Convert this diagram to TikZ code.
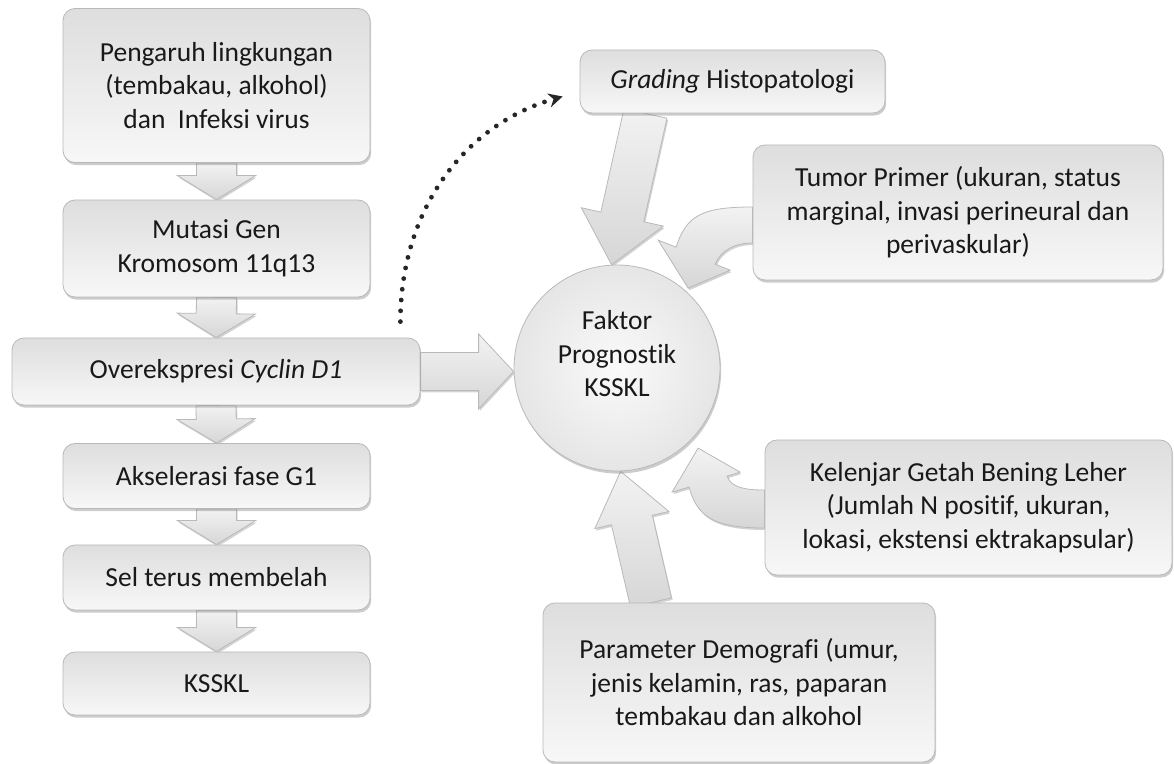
\documentclass[tikz,border=0pt]{standalone}
\usepackage{fontspec}
\setmainfont{Carlito}[Ligatures=NoCommon]
\usetikzlibrary{arrows.meta,calc,shadows,backgrounds}

\newcommand{\diagfont}{\fontsize{13.75pt}{16.75pt}\selectfont}

% fat block arrow: [style] start, tip, shaft half width, head half width, head length
\newcommand{\fatarrow}[6][]{%
  \coordinate (fa-b) at ($(#3)!#6!(#2)$);
  \path[fatarrow,#1] ($(#2)!#4!90:(#3)$) -- ($(fa-b)!#4!90:(#3)$)
    -- ($(fa-b)!#5!90:(#3)$) -- (#3) -- ($(fa-b)!#5!-90:(#3)$)
    -- ($(fa-b)!#4!-90:(#3)$) -- ($(#2)!#4!-90:(#3)$) -- cycle;
}

\tikzset{
  box/.style={rectangle, rounded corners=6pt, draw=gray!55, top color=gray!26, bottom color=gray!6,
    align=center, inner sep=0pt, text=black!90, font=\diagfont,
    drop shadow={shadow xshift=0.6pt, shadow yshift=-1.3pt, opacity=0.4}},
  boxtext/.style={align=center, inner sep=0pt, text=black!90, font=\diagfont},
  fatarrow/.style={draw=gray!55, top color=gray!10, bottom color=gray!32,
    drop shadow={shadow xshift=0.6pt, shadow yshift=-1pt, opacity=0.35}},
  dotarrow/.style={line width=2.4pt, line cap=round, dash pattern=on 0pt off 5.4pt,
    black!85, -{Stealth[length=7pt, width=7pt]}}
}

\begin{document}
\begin{tikzpicture}[x=0.5pt, y=-0.5pt]
    \useasboundingbox (0,0) rectangle (1174,764);

    % left column
    \node[box, minimum width=153.5pt, minimum height=77pt] (env) at (216.5,85.5)
        {Pengaruh lingkungan\\(tembakau, alkohol)\\dan\ \ Infeksi virus};
    \node[box, minimum width=153.5pt, minimum height=48.5pt] (mutasi) at (216.5,248.5)
        {Mutasi Gen\\Kromosom 11q13};
    \node[box, minimum width=204pt, minimum height=33.5pt] (ovr) at (216,371.5)
        {Overekspresi \textit{Cyclin D1}};
    \node[box, minimum width=153.5pt, minimum height=32.5pt] (aksel) at (216.5,476)
        {Akselerasi fase G1};
    \node[box, minimum width=153.5pt, minimum height=32.5pt] (sel) at (216.5,577.5)
        {Sel terus membelah};
    \node[box, minimum width=153.5pt, minimum height=31.5pt] (ksskl) at (216.5,683.5)
        {KSSKL};

    % right side
    \node[box, circle, minimum size=103pt, inner color=gray!4, outer color=gray!20,
        label={[boxtext, yshift=7pt]center:Faktor\\Prognostik\\KSSKL}] (faktor) at (617,368) {};
    \node[box, minimum width=152.5pt, minimum height=31.5pt] (grading) at (732.5,81.5)
        {\textit{Grading} Histopatologi};
    \node[box, minimum width=205pt, minimum height=67.5pt] (tumor) at (958,212.5)
        {Tumor Primer (ukuran, status\\marginal, invasi perineural dan\\perivaskular)};
    \node[box, minimum width=203.5pt, minimum height=67.5pt] (kgb) at (968.5,507.5)
        {Kelenjar Getah Bening Leher\\(Jumlah N positif, ukuran,\\lokasi, ekstensi ektrakapsular)};
    \node[box, minimum width=196pt, minimum height=79.5pt] (demografi) at (739,682.5)
        {Parameter Demografi (umur,\\jenis kelamin, ras, paparan\\tembakau dan alkohol};

    \begin{scope}[on background layer]
        \fatarrow{env.south}{mutasi.north}{10pt}{19.5pt}{12pt}
        \fatarrow{mutasi.south}{ovr.north}{10pt}{19.5pt}{12pt}
        \fatarrow{ovr.south}{aksel.north}{10pt}{19.5pt}{12pt}
        \fatarrow{aksel.south}{sel.north}{10pt}{19.5pt}{12pt}
        \fatarrow{sel.south}{ksskl.north}{10pt}{19.5pt}{12pt}

        \coordinate (ovr-tip) at (faktor.west |- ovr.east);
        \fatarrow{ovr.east}{ovr-tip}{9.5pt}{18.75pt}{17.5pt}

        \coordinate (gr-s) at ($(grading.south)+(-87,0)$);
        \fatarrow{gr-s}{faktor.93}{11pt}{21pt}{24.5pt}

        \coordinate (dem-s) at ($(demografi.north)+(-88,0)$);
        \fatarrow{dem-s}{faktor.-88}{10.5pt}{19pt}{25pt}

        % curved arrow from tumor
        \coordinate (t1) at ($(tumor.west)+(0,-5.5)$);
        \coordinate (t2) at ($(tumor.west)+(0,30.5)$);
        \coordinate (tt) at ($(faktor.48)+(2,-3)$);
        \path[fatarrow] (t1) .. controls +(-50,0) and +(10,-32) .. ($(tt)+(-12,-41)$)
            -- ($(tt)+(-30,-48)$) -- (tt) -- ($(tt)+(42,-18)$) -- ($(tt)+(27,-24)$)
            .. controls +(6,-14) and +(-18,0) .. (t2) -- cycle;

        % curved arrow from kelenjar
        \coordinate (k1) at ($(kgb.west)+(0,20.5)$);
        \coordinate (k2) at ($(kgb.west)+(0,-17.5)$);
        \coordinate (kt) at ($(faktor.-45)+(8,7)$);
        \path[fatarrow] (k1) .. controls +(-50,0) and +(8,30) .. ($(kt)+(-9,39)$)
            -- ($(kt)+(-26,44)$) -- (kt) -- ($(kt)+(42,24)$) -- ($(kt)+(29,28)$)
            .. controls +(4,12) and +(-18,0) .. (k2) -- cycle;
    \end{scope}

    \coordinate (dot-s) at ($(ovr.north east)+(-20,-16)$);
    \coordinate (dot-e) at ($(grading.west)+(-17,15)$);
    \draw[dotarrow] (dot-s) .. controls +(0,-112) and +(-98,28) .. (dot-e);
\end{tikzpicture}
\end{document}
